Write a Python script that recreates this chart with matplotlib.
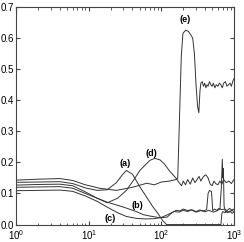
import matplotlib
matplotlib.use("Agg")
import matplotlib.pyplot as plt
from matplotlib.ticker import LogLocator, NullFormatter

plt.rcParams['font.family'] = ['Liberation Sans', 'DejaVu Sans']
plt.rcParams['mathtext.default'] = 'regular'

# curve (a)
xa = [1, 2, 4, 6, 9, 13, 18, 24, 29, 33, 40, 51, 62, 75, 90, 105, 118,
      300, 660, 680, 700, 750, 800, 870, 930, 1000]
ya = [0.136, 0.137, 0.138, 0.132, 0.118, 0.110, 0.112, 0.135, 0.160, 0.174, 0.162,
      0.120, 0.090, 0.060, 0.035, 0.012, 0.0,
      0.0, 0.0, 0.035, 0.042, 0.038, 0.044, 0.040, 0.046, 0.042]

# curve (b)
xb = [1, 2, 4, 6, 9, 13, 18, 25, 33, 45, 56, 75, 96, 120, 140, 160, 180, 200,
      230, 260, 300, 340, 380, 420, 440, 460, 490, 510, 540, 580, 620, 680, 740,
      800, 870, 930, 1000]
yb = [0.120, 0.121, 0.122, 0.117, 0.100, 0.085, 0.072, 0.062, 0.053, 0.042, 0.032,
      0.026, 0.022, 0.024, 0.038, 0.046, 0.044, 0.050, 0.045, 0.048, 0.042, 0.047,
      0.044, 0.048, 0.100, 0.110, 0.106, 0.045, 0.050, 0.046, 0.052, 0.048, 0.050,
      0.045, 0.052, 0.047, 0.050]

# curve (c)
xc = [1, 2, 4, 6, 9, 13, 18, 25, 33, 45, 60, 80, 100, 125, 150, 175, 200, 230,
      260, 300, 350, 400, 450, 520, 580, 640, 670, 690, 705, 715, 730, 760, 820,
      880, 940, 1000]
yc = [0.109, 0.110, 0.111, 0.107, 0.092, 0.075, 0.056, 0.038, 0.026, 0.020, 0.018,
      0.019, 0.023, 0.033, 0.042, 0.040, 0.046, 0.042, 0.047, 0.040, 0.045, 0.041,
      0.046, 0.040, 0.044, 0.050, 0.120, 0.210, 0.150, 0.180, 0.060, 0.042, 0.038,
      0.044, 0.036, 0.040]

# curve (d)
xd = [1, 2, 4, 6, 9, 13, 18, 25, 33, 42, 51, 62, 70, 81, 96, 110, 130, 150, 165,
      175, 190, 200, 215, 230, 250, 270, 290, 310, 330, 350, 380, 410, 440, 470,
      500, 530, 560, 600, 640, 680, 720, 780, 850, 920, 1000]
yd = [0.127, 0.129, 0.130, 0.125, 0.105, 0.085, 0.070, 0.085, 0.110, 0.145, 0.175,
      0.195, 0.207, 0.213, 0.208, 0.195, 0.172, 0.156, 0.145,
      0.135, 0.125, 0.140, 0.128, 0.145, 0.130, 0.150, 0.135, 0.145, 0.155, 0.140,
      0.155, 0.160, 0.150, 0.130, 0.125, 0.140, 0.132, 0.128, 0.140, 0.130, 0.145,
      0.135, 0.140, 0.132, 0.145]

# curve (e)
xe = [1, 2, 4, 6, 9, 14, 24, 40, 63, 80, 100, 130, 160, 168, 178, 188, 198, 215,
      235, 255, 270, 285, 300, 315, 328, 340, 350, 365, 380, 395, 410, 425, 440,
      460, 480, 500, 520, 545, 570, 600, 630, 660, 690, 720, 760, 800, 840, 880,
      920, 960, 1000]
ye = [0.143, 0.146, 0.148, 0.142, 0.128, 0.117, 0.110, 0.120, 0.133, 0.128, 0.137,
      0.140, 0.145, 0.150, 0.350, 0.540, 0.615, 0.625, 0.622, 0.610, 0.600, 0.550,
      0.450, 0.380, 0.360, 0.430, 0.455, 0.460, 0.445, 0.455, 0.440, 0.450, 0.445,
      0.460, 0.450, 0.445, 0.455, 0.440, 0.450, 0.445, 0.455, 0.450, 0.440, 0.455,
      0.460, 0.445, 0.450, 0.455, 0.445, 0.460, 0.470]

labels = ['(a)', '(b)', '(c)', '(d)', '(e)']
label_x = [32, 47, 19.5, 72, 211]
label_y = [0.195, 0.060, 0.018, 0.230, 0.660]

fig = plt.figure(figsize=(2.44, 2.42), dpi=100)
ax = fig.add_axes([0.066, 0.072, 0.893, 0.899])

for xs, ys in [(xa, ya), (xb, yb), (xc, yc), (xd, yd), (xe, ye)]:
    ax.plot(xs, ys, color='#333333', lw=0.7)

for t, lx, ly in zip(labels, label_x, label_y):
    ax.text(lx, ly, t, fontsize=6.5, fontweight='bold', ha='center', va='center')

ax.set_xscale('log')
ax.set_xlim(1, 1000)
ax.set_ylim(0, 0.7)
ax.set_yticks([0.0, 0.1, 0.2, 0.3, 0.4, 0.5, 0.6, 0.7])
ax.set_yticklabels(['0.0', '0.1', '0.2', '0.3', '0.4', '0.5', '0.6', '0.7'])
ax.xaxis.set_major_locator(LogLocator(base=10, numticks=10))
ax.xaxis.set_minor_locator(LogLocator(base=10, subs=range(2, 10), numticks=10))
ax.xaxis.set_minor_formatter(NullFormatter())
ax.tick_params(which='both', direction='in', top=True, right=True,
               labelsize=7, color='#444444')
ax.tick_params(axis='y', pad=1.5)
ax.tick_params(axis='x', pad=2.5)
ax.tick_params(which='major', length=3)
ax.tick_params(which='minor', length=1.8)
for s in ax.spines.values():
    s.set_color('#444444')
    s.set_linewidth(0.8)

fig.savefig('out.png', dpi=100)
